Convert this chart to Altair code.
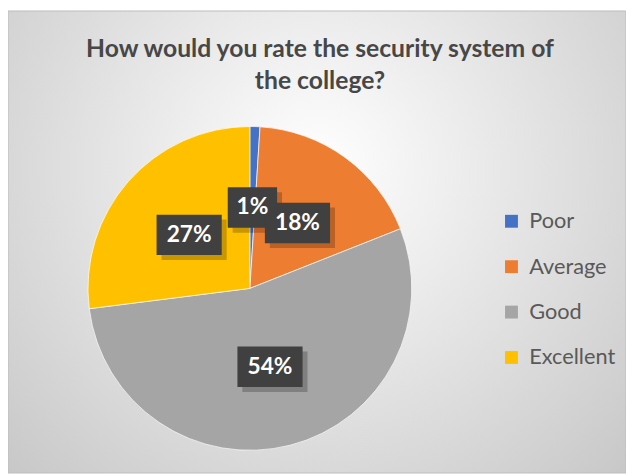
import altair as alt
import pandas as pd

categories = ["Poor", "Average", "Good", "Excellent"]
shares = [1, 18, 54, 27]
labels = ["1%", "18%", "54%", "27%"]
colors = ["#4472C4", "#ED7D31", "#A5A5A5", "#FFC000"]
title_text = "How would you rate the security system of\nthe college?"

W, H = 626, 468
CX, CY, R = 245, 281, 164
LR = 82

df = pd.DataFrame({"category": categories, "share": shares, "label": labels,
                   "idx": list(range(len(categories)))})

bg = alt.Chart(pd.DataFrame({"a": [0]})).mark_rect(
    fill=alt.RadialGradient(
        gradient="radial", x1=0.5, y1=0.38, x2=0.5, y2=0.38, r1=0, r2=0.75,
        stops=[alt.GradientStop(offset=0, color="#ffffff"),
               alt.GradientStop(offset=1, color="#c4c4c4")]),
    stroke="#bdbdbd", strokeWidth=1
).encode(x=alt.value(0), x2=alt.value(W), y=alt.value(0), y2=alt.value(H))

title = alt.Chart(pd.DataFrame({"t": [title_text]})).mark_text(
    font="Lato", fontSize=25, fontWeight="bold", color="#474747",
    lineBreak="\n", lineHeight=32, align="center", baseline="middle"
).encode(text="t:N", x=alt.value(316), y=alt.value(39))

pie = alt.Chart(df).mark_arc(outerRadius=R, stroke="white", strokeWidth=0.7).encode(
    theta=alt.Theta("share:Q", stack=True),
    color=alt.Color("category:N", sort=categories,
                    scale=alt.Scale(domain=categories, range=colors),
                    legend=alt.Legend(title=None, orient="none", legendX=499, legendY=202,
                                      symbolType="square", symbolSize=170, symbolStrokeWidth=0,
                                      labelFont="Lato", labelFontSize=22, labelColor="#595959",
                                      labelOffset=7, rowPadding=24, padding=0)),
    order=alt.Order("idx:Q"),
    x=alt.value(CX), y=alt.value(CY),
)

base = alt.Chart(df).transform_window(
    cum="sum(share)", sort=[alt.SortField("idx")], frame=[None, 0]
).transform_joinaggregate(total="sum(share)").transform_calculate(
    ang="2*PI*(datum.cum - datum.share/2)/datum.total",
    lx=f"{CX} + {LR}*sin(datum.ang)",
    ly=f"{CY} - {LR}*cos(datum.ang)",
    hw="9 + 8*length(datum.label)",
    x1="datum.lx - datum.hw", x2="datum.lx + datum.hw",
    y1="datum.ly - 20.5", y2="datum.ly + 20.5",
    sx1="datum.x1 + 5", sx2="datum.x2 + 5", sy1="datum.y1 + 5", sy2="datum.y2 + 5",
)

shadow = base.mark_rect(color="black", opacity=0.22).encode(
    x=alt.X("sx1:Q", scale=None, axis=None), x2="sx2:Q",
    y=alt.Y("sy1:Q", scale=None, axis=None), y2="sy2:Q")

boxes = base.mark_rect(color="#404040").encode(
    x=alt.X("x1:Q", scale=None, axis=None), x2="x2:Q",
    y=alt.Y("y1:Q", scale=None, axis=None), y2="y2:Q")

texts = base.mark_text(font="Lato", fontSize=23, fontWeight="bold", color="white",
                       align="center", baseline="middle").encode(
    x=alt.X("lx:Q", scale=None, axis=None), y=alt.Y("ly:Q", scale=None, axis=None),
    text="label:N")

chart = alt.layer(bg, title, pie, shadow, boxes, texts).properties(
    width=W, height=H, padding=0, autosize=alt.AutoSizeParams(type="none"),
    background="white"
).configure_view(stroke=None)

chart.save("out.html", embed_options={"renderer": "svg", "actions": False})
